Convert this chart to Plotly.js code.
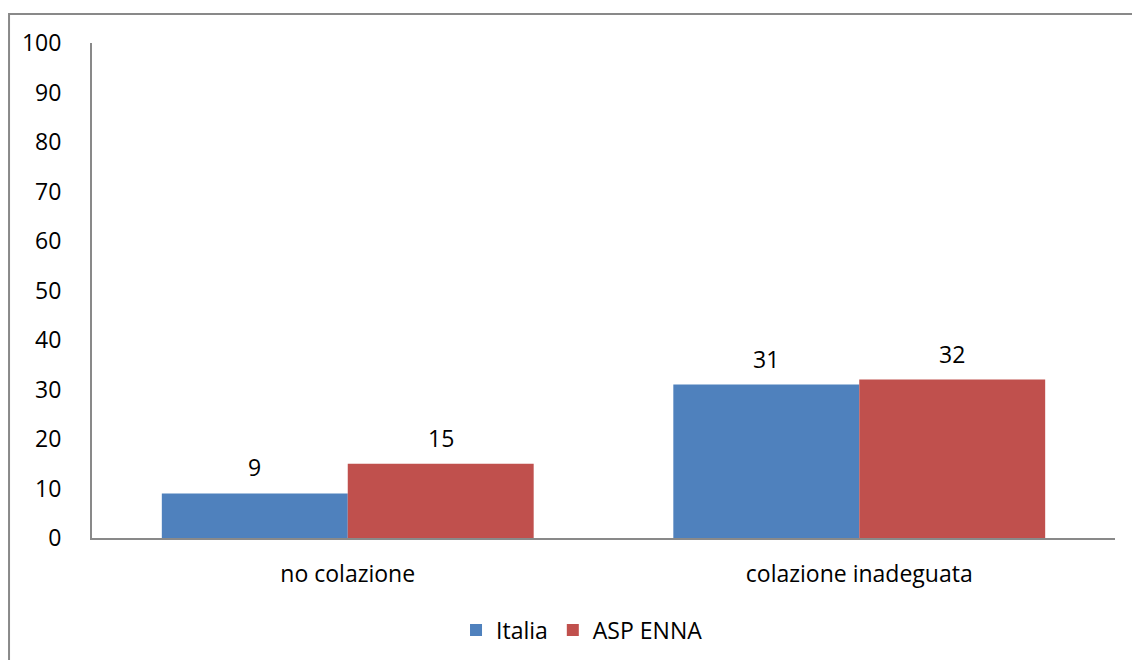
<!DOCTYPE html>
<html><head><meta charset="utf-8">
<script src="https://cdn.plot.ly/plotly-3.0.1.min.js"></script>
<style>html,body{margin:0;padding:0;background:#fff}</style>
</head><body>
<div id="chart" style="width:1132px;height:660px"></div>
<script>
const categories = ["no colazione", "colazione inadeguata"];
const italia = [9, 31];
const aspEnna = [15, 32];
const seriesNames = ["Italia", "ASP ENNA"];
const yTicks = [0,10,20,30,40,50,60,70,80,90,100];

const FONT = "'Open Sans', sans-serif";
const FS = 23;
const traces = [
  {type:'bar', name:seriesNames[0], x:categories, y:italia, marker:{color:'#4F81BD'}},
  {type:'bar', name:seriesNames[1], x:categories, y:aspEnna, marker:{color:'#C0504D'}}
];
const annotations = [];
[italia, aspEnna].forEach((vals, si) => {
  vals.forEach((v, i) => {
    annotations.push({x: categories[i], y: v, xref:'x', yref:'y', text: String(v),
      showarrow:false, xshift: si===0 ? -93 : 93, yshift: 26,
      font:{family:FONT, size:FS, color:'#000'}});
  });
});
const layout = {
  width:1132, height:660,
  margin:{l:92, r:17, t:43, b:122, autoexpand:false},
  paper_bgcolor:'#fff', plot_bgcolor:'#fff',
  barmode:'group', bargap:0.273, bargroupgap:0,
  font:{family:FONT, size:FS, color:'#000'},
  xaxis:{automargin:false, showline:true, linecolor:'#898989', linewidth:2, showgrid:false, zeroline:false,
    ticks:'', tickfont:{family:FONT, size:FS, color:'#000'}, ticklabelstandoff:14},
  yaxis:{automargin:false, range:[0,100], tickvals:yTicks, showline:true, linecolor:'#898989', linewidth:2,
    showgrid:false, zeroline:false, ticks:'', ticklabelstandoff:24,
    tickfont:{family:FONT, size:FS, color:'#000'}},
  showlegend:true,
  legend:{orientation:'h', x:0.479, xanchor:'center', y:-0.186, yanchor:'middle',
    font:{family:FONT, size:FS, color:'#000'}, itemwidth:30, traceorder:'normal'},
  annotations: annotations,
  shapes:[{type:'rect', xref:'paper', yref:'paper', x0:-0.0811, x1:1.03, y0:-0.3, y1:1.0586,
    line:{color:'#898989', width:2}, fillcolor:'rgba(0,0,0,0)', layer:'below'}]
};
Plotly.newPlot('chart', traces, layout, {displayModeBar:false, staticPlot:true});
</script>
</body></html>
